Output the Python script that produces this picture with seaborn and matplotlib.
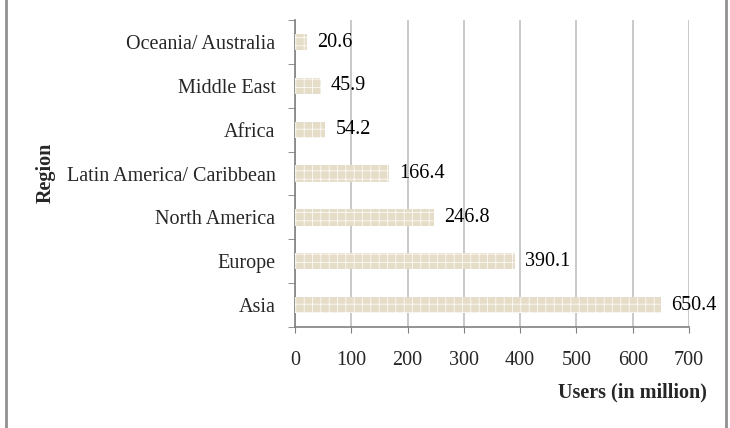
import matplotlib
matplotlib.use("Agg")
import matplotlib.pyplot as plt
import seaborn as sns
import pandas as pd
from matplotlib.lines import Line2D

regions = ["Oceania/ Australia", "Middle East", "Africa", "Latin America/ Caribbean",
           "North America", "Europe", "Asia"]
users = [20.6, 45.9, 54.2, 166.4, 246.8, 390.1, 650.4]
x_ticks = [0, 100, 200, 300, 400, 500, 600, 700]

df = pd.DataFrame({"Region": regions, "Users": users})

sns.set_style("white")
plt.rcParams['font.family'] = ['Liberation Serif', 'DejaVu Serif']
plt.rcParams['hatch.linewidth'] = 0.5
plt.rcParams['hatch.color'] = "#dbd1bb"

fig = plt.figure(figsize=(7.3, 4.28), dpi=100)
ax = fig.add_axes([0.404, 0.236, 0.540, 0.717])

sns.barplot(data=df, x="Users", y="Region", orient="h", color="#e6ddc9",
            width=0.37, saturation=1, linewidth=0, hatch="++", ax=ax, zorder=3)

for i, v in enumerate(users):
    ax.text(v + 18, i, f"{v}", va="center", ha="left", fontsize=14.5, color="black", zorder=4)

ax.set_xlim(0, 700)
ax.set_ylim(6.5, -0.5)
ax.set_xticks(x_ticks)
ax.set_xticklabels([str(t) for t in x_ticks], fontsize=14.5)
ax.tick_params(axis="x", pad=13, length=4, color="#808080", direction="out", bottom=True)
ax.tick_params(axis="y", length=0, pad=14, labelsize=14.5)
# category boundary ticks on left spine
ax.set_yticks([i + 0.5 for i in range(-1, 7)], minor=True)
ax.tick_params(axis="y", which="minor", length=5, color="#808080", direction="out", left=True)

ax.grid(axis="x", color="#c0c0c0", linewidth=1.2, zorder=0)
ax.grid(axis="y", visible=False)
for s in ["top", "right"]:
    ax.spines[s].set_visible(False)
for s in ["left", "bottom"]:
    ax.spines[s].set_color("#808080")
    ax.spines[s].set_linewidth(1.2)

ax.set_xlabel("")
ax.set_ylabel("")
fig.text(0.969, 0.082, "Users (in million)", ha="right", va="center",
         fontsize=14.5, fontweight="bold")
fig.text(0.063, 0.597, "Region", ha="center", va="center", rotation=90,
         fontsize=14.5, fontweight="bold")

# outer frame lines
fig.add_artist(Line2D([0.008, 0.008], [0, 1], color="#909090", linewidth=2))
fig.add_artist(Line2D([0.994, 0.994], [0, 1], color="#909090", linewidth=2))

fig.savefig("out.png", dpi=100)
